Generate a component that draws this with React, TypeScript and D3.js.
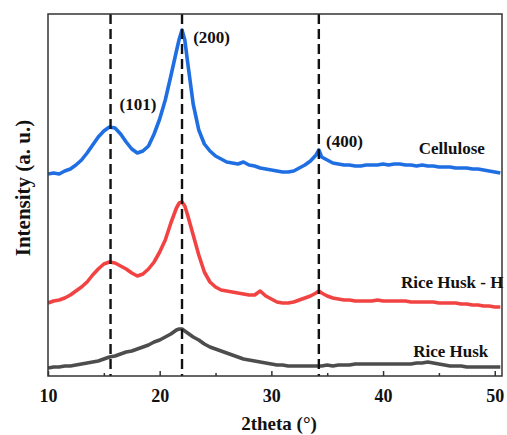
import React, { useEffect, useRef } from "react";
import * as d3 from "d3";

// 2theta sampling (degrees)
const theta = [
  10, 10.5, 11, 11.5, 12, 12.5, 13, 13.5, 14, 14.5,
  15, 15.5, 16, 16.5, 17, 17.5, 18, 18.5, 19, 19.5,
  20, 20.5, 21, 21.5, 21.75, 22, 22.25, 22.5, 23, 23.5, 24, 24.5,
  25, 25.5, 26, 26.5, 27, 27.5, 28, 28.5, 29, 29.5,
  30, 30.5, 31, 31.5, 32, 32.5, 33, 33.5, 34, 34.25, 34.5,
  35, 35.5, 36, 36.5, 37, 37.5, 38, 38.5, 39, 39.5,
  40, 40.5, 41, 41.5, 42, 42.5, 43, 43.5, 44, 44.5,
  45, 45.5, 46, 46.5, 47, 47.5, 48, 48.5, 49, 49.5, 50, 50.5,
];

// intensity (a. u.), offset stack
const cellulose = [
  202, 203, 202, 205, 207, 211, 216, 223, 231, 239,
  245, 249, 248, 242, 234, 227, 223, 225, 230, 242,
  257, 276, 300, 325, 337, 346, 336, 314, 272, 246, 232, 225,
  220, 217, 214, 213, 212, 214, 211, 210, 208, 207,
  206, 205, 204, 204, 205, 208, 211, 215, 221, 226, 219,
  216, 213, 212, 211, 211, 210, 210, 211, 211, 211,
  212, 211, 212, 212, 211, 211, 210, 211, 210, 210,
  209, 209, 209, 208, 208, 208, 207, 207, 206, 205, 204, 203,
];

const riceHuskH = [
  73, 75, 76, 78, 81, 85, 89, 94, 101, 107,
  112, 114, 113, 110, 107, 103, 100, 102, 107, 114,
  124, 136, 153, 168, 173, 174, 170, 161, 141, 121, 104, 94,
  89, 86, 85, 84, 83, 82, 81, 81, 85, 80,
  77, 74, 73, 73, 74, 76, 78, 80, 83, 85, 83,
  80, 78, 77, 76, 76, 75, 75, 75, 75, 76,
  75, 75, 75, 75, 75, 74, 74, 74, 74, 74,
  73, 73, 73, 73, 72, 72, 71, 71, 70, 70, 69, 69,
];

const riceHusk = [
  8, 9, 9, 10, 10, 11, 12, 13, 14, 15,
  17, 19, 20, 22, 24, 25, 27, 29, 31, 34,
  36, 39, 42, 46, 47, 47, 45, 43, 39, 36, 32, 29,
  27, 25, 23, 21, 19, 17, 16, 15, 14, 13,
  12, 11, 11, 10, 10, 10, 10, 10, 10, 10, 10,
  11, 10, 11, 11, 11, 12, 12, 12, 12, 12,
  12, 12, 12, 12, 12, 12, 13, 13, 14, 13,
  12, 11, 10, 10, 10, 9, 9, 9, 9, 9, 9, 9,
];

const series = [
  { name: "Cellulose", values: cellulose, color: "#1f6fe3" },
  { name: "Rice Husk - H", values: riceHuskH, color: "#f24343" },
  { name: "Rice Husk", values: riceHusk, color: "#4d4d4d" },
];

const peakPositions = [15.6, 22.0, 34.25];
const peakLabels = [
  { text: "(101)", x: 16.4, y: 266 },
  { text: "(200)", x: 23.0, y: 333 },
  { text: "(400)", x: 34.9, y: 229 },
];
const seriesLabels = [
  { text: "Cellulose", x: 43.2, y: 222 },
  { text: "Rice Husk - H", x: 41.6, y: 88 },
  { text: "Rice Husk", x: 42.7, y: 19 },
];

const majorTicks = [10, 20, 30, 40, 50];
const minorTicks = [15, 25, 35, 45];

const FONT = "'Liberation Serif', 'Times New Roman', serif";

const App = () => {
  const svgRef = useRef(null);

  useEffect(() => {
    const w = 507;
    const h = 435;
    const margin = { top: 14, right: 5, bottom: 59, left: 48 };

    const svg = d3.select(svgRef.current).attr("width", w).attr("height", h);
    svg.selectAll("*").remove();

    const x = d3.scaleLinear().domain([10, 50.65]).range([margin.left, w - margin.right]);
    const y = d3.scaleLinear().domain([0, 362]).range([h - margin.bottom, margin.top]);

    svg.append("defs").append("clipPath").attr("id", "plot-clip")
      .append("rect")
      .attr("x", margin.left).attr("y", margin.top)
      .attr("width", w - margin.left - margin.right)
      .attr("height", h - margin.top - margin.bottom);

    // curves
    const line = d3.line<number>()
      .x((_, i) => x(theta[i]))
      .y(d => y(d));

    svg.append("g").attr("clip-path", "url(#plot-clip)")
      .selectAll("path")
      .data(series)
      .join("path")
      .attr("d", d => line(d.values))
      .attr("fill", "none")
      .attr("stroke", d => d.color)
      .attr("stroke-width", 3.6)
      .attr("stroke-linejoin", "round");

    // dashed reference lines
    svg.append("g")
      .selectAll("line")
      .data(peakPositions)
      .join("line")
      .attr("x1", d => x(d)).attr("x2", d => x(d))
      .attr("y1", margin.top).attr("y2", h - margin.bottom)
      .attr("stroke", "#111")
      .attr("stroke-width", 2.4)
      .attr("stroke-dasharray", "10 5");

    // frame
    svg.append("rect")
      .attr("x", margin.left).attr("y", margin.top)
      .attr("width", w - margin.left - margin.right)
      .attr("height", h - margin.top - margin.bottom)
      .attr("fill", "none")
      .attr("stroke", "#333")
      .attr("stroke-width", 1.5);

    // x axis, ticks pointing inward
    const xAxis = svg.append("g")
      .attr("transform", `translate(0, ${h - margin.bottom})`)
      .call(d3.axisBottom(x).tickValues(majorTicks).tickSize(-5).tickPadding(13).tickFormat(d3.format("d")));
    xAxis.select(".domain").remove();
    xAxis.selectAll("line").attr("stroke", "#333").attr("stroke-width", 1.5);
    xAxis.selectAll("text")
      .attr("font-family", FONT).attr("font-size", 18).attr("font-weight", "bold").attr("fill", "#111");

    const xMinor = svg.append("g")
      .attr("transform", `translate(0, ${h - margin.bottom})`)
      .call(d3.axisBottom(x).tickValues(minorTicks).tickSize(-3).tickFormat(() => ""));
    xMinor.select(".domain").remove();
    xMinor.selectAll("line").attr("stroke", "#333").attr("stroke-width", 1.5);

    // axis titles
    svg.append("text")
      .attr("x", 279)
      .attr("y", 430)
      .attr("text-anchor", "middle")
      .attr("font-family", FONT).attr("font-size", 19).attr("font-weight", "bold").attr("fill", "#111")
      .text("2theta (°)");

    svg.append("text")
      .attr("transform", `translate(30, 188) rotate(-90)`)
      .attr("text-anchor", "middle")
      .attr("font-family", FONT).attr("font-size", 21).attr("font-weight", "bold").attr("fill", "#111")
      .text("Intensity (a. u.)");

    // annotations
    svg.append("g")
      .selectAll("text")
      .data([...peakLabels, ...seriesLabels])
      .join("text")
      .attr("x", d => x(d.x))
      .attr("y", d => y(d.y))
      .attr("font-family", FONT).attr("font-size", 17).attr("font-weight", "bold").attr("fill", "#111")
      .text(d => d.text);
  }, []);

  return (
    <svg ref={svgRef} style={{ position: "absolute", left: 0, top: 0, background: "white" }}></svg>
  );
};

export default App;
